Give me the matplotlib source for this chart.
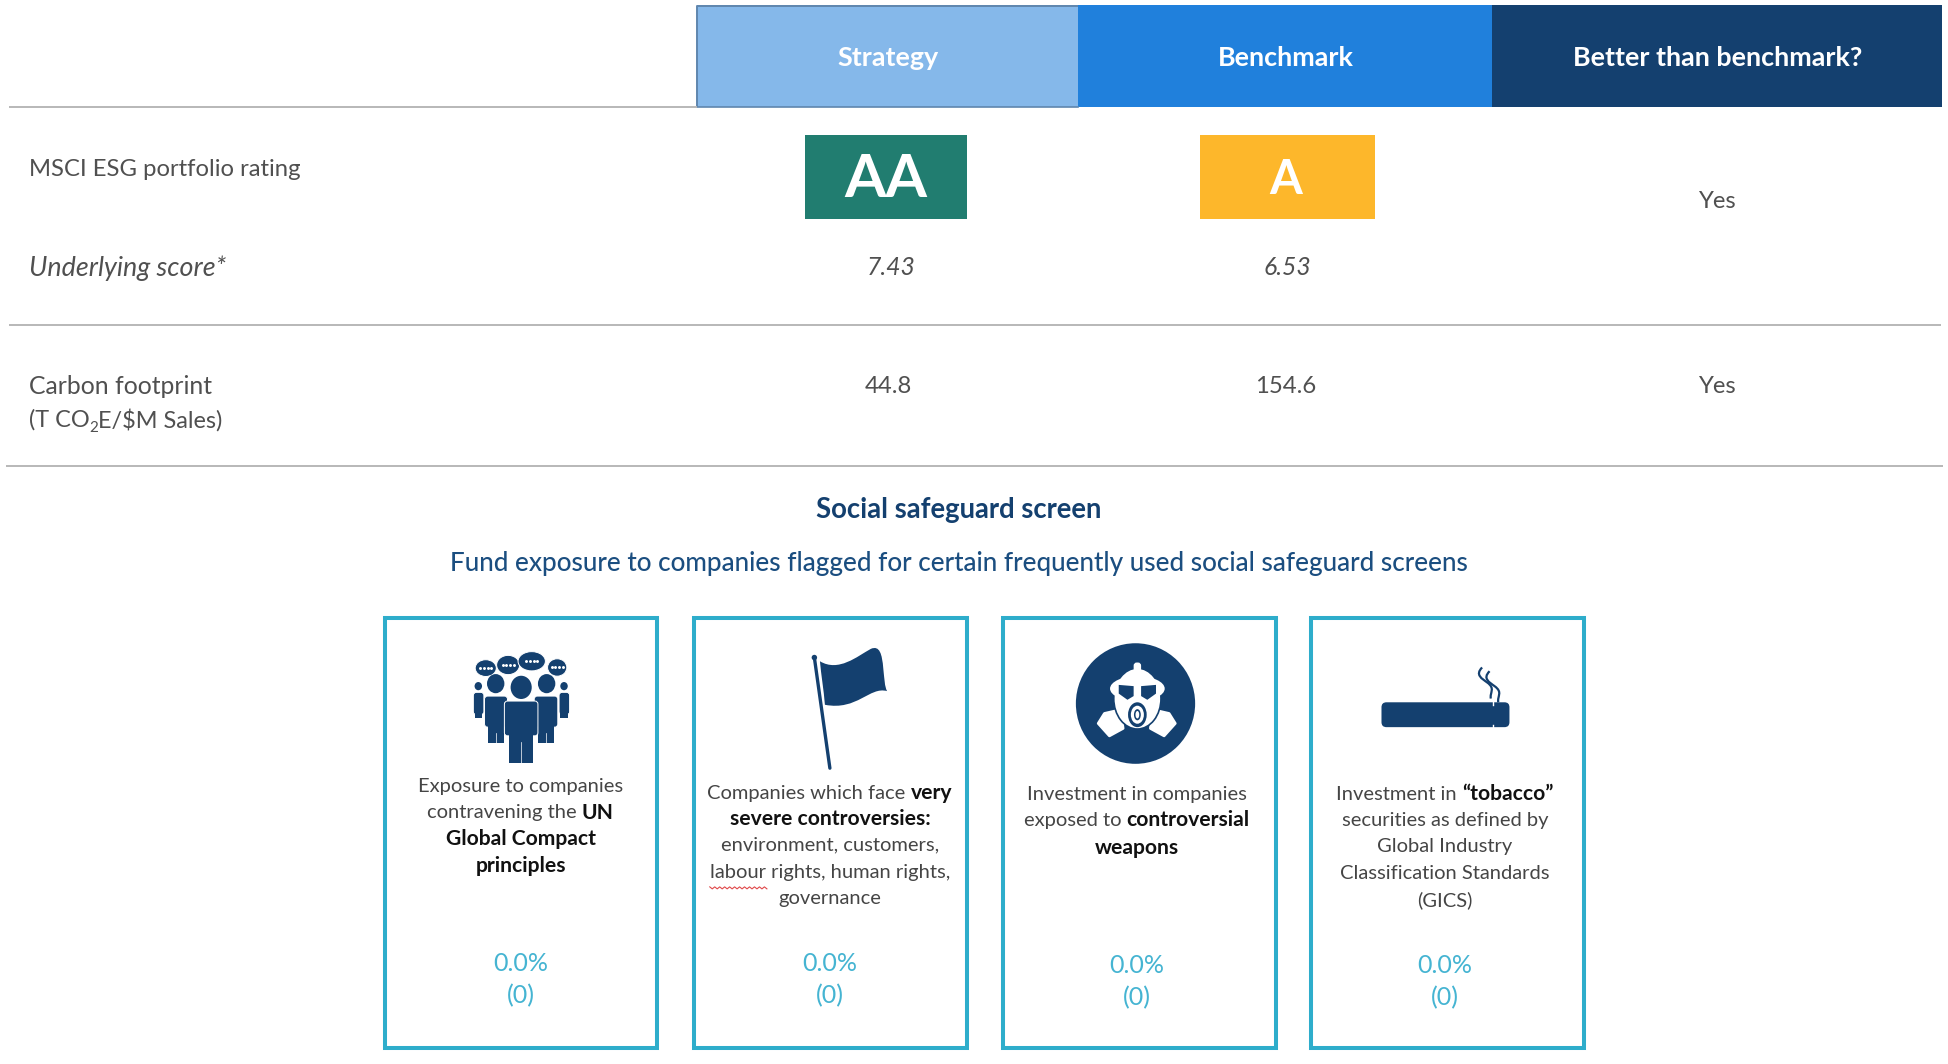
import matplotlib
matplotlib.use("Agg")
import matplotlib.pyplot as plt
from matplotlib.patches import Rectangle, Circle, Ellipse, FancyBboxPatch, PathPatch, Polygon
from matplotlib.path import Path

# ---------- data ----------
header_labels = ["Strategy", "Benchmark", "Better than benchmark?"]
row_labels = ["MSCI ESG portfolio rating", "Underlying score*", "Carbon footprint"]
ratings = ["AA", "A"]
underlying_scores = ["7.43", "6.53"]
carbon_footprint = ["44.8", "154.6"]
better_flags = ["Yes", "Yes"]
section_title = "Social safeguard screen"
section_subtitle = "Fund exposure to companies flagged for certain frequently used social safeguard screens"
card_values = ["0.0%", "0.0%", "0.0%", "0.0%"]
card_counts = ["(0)", "(0)", "(0)", "(0)"]
card_texts = [
    [[("Exposure to companies", 0)],
     [("contravening the ", 0), ("UN", 1)],
     [("Global Compact", 1)],
     [("principles", 1)]],
    [[("Companies which face ", 0), ("very", 1)],
     [("severe controversies:", 1)],
     [("environment, customers,", 0)],
     [("labour rights, human rights,", 0)],
     [("governance", 0)]],
    [[("Investment in companies", 0)],
     [("exposed to ", 0), ("controversial", 1)],
     [("weapons", 1)]],
    [[("Investment in ", 0), ("\u201ctobacco\u201d", 1)],
     [("securities as defined by", 0)],
     [("Global Industry", 0)],
     [("Classification Standards", 0)],
     [("(GICS)", 0)]],
]

# ---------- style ----------
FONT = "Lato"
NAVY = "#14406F"
TEAL = "#2EADCB"
VAL = "#45B4D2"
GREY = "#505050"
RULE = "#B8B8B8"

fig = plt.figure(figsize=(19.48, 10.64), dpi=100, facecolor="white")
ax = fig.add_axes([0, 0, 1, 1])
ax.set_xlim(0, 1568)
ax.set_ylim(856, 0)
ax.axis("off")


def T(x, y, s, size=17.2, color=GREY, ha="center", weight="normal", style="normal"):
    return ax.text(x, y, s, fontsize=size, color=color, ha=ha, va="center",
                   family=FONT, weight=weight, style=style)


def centred(xc, y, segs):
    """One line made of regular and bold runs, centred on xc."""
    r = fig.canvas.get_renderer()
    arts = []
    for s, b in segs:
        arts.append(ax.text(0, y, s.replace(" ", "\u00a0"), fontsize=15.2 if b else 14.5, family=FONT,
                            weight="bold" if b else "normal",
                            color="#111111" if b else "#454545", va="center", ha="left"))
    widths = [a.get_window_extent(r).width * 1568 / 1948 for a in arts]
    x = xc - sum(widths) / 2
    starts = []
    for a, w in zip(arts, widths):
        a.set_x(x)
        starts.append((x, w))
        x += w
    return starts


# ---------- header ----------
cols = [(561, 868, "#85B8EA"), (868, 1201, "#2080DC"), (1201, 1563, NAVY)]
for (x0, x1, c), lab in zip(cols, header_labels):
    ax.add_patch(Rectangle((x0, 4), x1 - x0, 82, fc=c, ec="none"))
    T((x0 + x1) / 2 + 0.5, 46.5, lab, size=19.4, color="white", weight="bold")
ax.plot([561, 561, 868], [86, 4.5, 4.5], color="#5F86AE", lw=1.4, solid_capstyle="butt")
ax.plot([561, 868], [86, 86], color="#5F86AE", lw=1.2)

for y, x0, x1 in [(86, 7, 561), (261.5, 7, 1562), (374.5, 5, 1564)]:
    ax.plot([x0, x1], [y, y], color=RULE, lw=1.4, solid_capstyle="butt")

# ---------- table ----------
T(23, 136, row_labels[0], ha="left")
T(23, 215.5, row_labels[1], ha="left", style="italic", size=19.4)
T(23, 311, row_labels[2], ha="left", size=17.8)
x = T(23, 338, "(T CO", ha="left", size=16.9)
fig.canvas.draw()
r = fig.canvas.get_renderer()
x_end = 23 + x.get_window_extent(r).width * 1568 / 1948
s2 = T(x_end, 344, "2", size=11, ha="left")
x_end += s2.get_window_extent(r).width * 1568 / 1948
T(x_end, 338, "E/$M Sales)", ha="left", size=16.9)

ax.add_patch(Rectangle((648, 109), 130, 67, fc="#217D70", ec="none"))
T(713, 145, ratings[0], size=43, color="white", weight="bold")
ax.add_patch(Rectangle((966, 109), 141, 67, fc="#FDB72B", ec="none"))
T(1035, 145, ratings[1], size=34, color="white", weight="bold")

T(717, 215.5, underlying_scores[0], style="italic", size=17.8)
T(1036, 215.5, underlying_scores[1], style="italic", size=17.8)
T(715, 311, carbon_footprint[0])
T(1035, 311, carbon_footprint[1])
T(1382, 162, better_flags[0])
T(1382, 311, better_flags[1])

T(772, 410, section_title, size=19.8, color=NAVY, weight="bold")
T(772, 453.5, section_subtitle, size=18.8, color="#1B4E80", weight="medium")

# ---------- cards ----------
card_x = [(310, 529), (559, 778), (807, 1027), (1055, 1275)]
text_ys = [[633, 654, 675, 697],
           [638, 659, 680, 702, 723],
           [639, 660, 682],
           [639, 660, 681, 703, 724]]
text_xc = [419, 668, 915, 1163]
val_ys = [(775, 801), (775, 801), (777, 803), (777, 803)]
for i, (x0, x1) in enumerate(card_x):
    ax.add_patch(Rectangle((x0, 497.5), x1 - x0, 346, fc="white", ec=TEAL, lw=2.9, joinstyle="miter"))
    for y, segs in zip(text_ys[i], card_texts[i]):
        st = centred(text_xc[i], y, segs)
        if segs[0][0].startswith("labour"):
            xs = st[0][0]
            n = 24
            ax.plot([xs + j * 2 for j in range(n)],
                    [y + 11.5 + (j % 2) * 1.6 for j in range(n)], color="#E0484A", lw=0.8)
    T(text_xc[i], val_ys[i][0], card_values[i], size=18, color=VAL, weight="normal")
    T(text_xc[i], val_ys[i][1], card_counts[i], size=18, color=VAL, weight="normal")


# ---------- icons ----------
# people with speech bubbles
for cx, cy, w, h in [(391, 537.5, 17, 13.5), (409, 535, 18.5, 15.5), (428, 532, 22, 15.5), (448.5, 537, 15.5, 14)]:
    ax.add_patch(Ellipse((cx, cy), w, h, fc=NAVY, ec="white", lw=0.7))
    ax.plot([cx - 4.5, cx - 1.5, cx + 1.5, cx + 4.5], [cy] * 4, ls="none", marker="o", ms=1.1, color="white")


def person(cx, head_y, head_r, x0, x1, top, waist, leg0, leg1, foot):
    ax.add_patch(Ellipse((cx, head_y), head_r * 2, head_r * 2.2, fc=NAVY, ec="none"))
    ax.add_patch(FancyBboxPatch((x0, top), x1 - x0, waist - top, boxstyle="round,pad=0,rounding_size=2.5",
                                fc=NAVY, ec="white", lw=0.7))
    ax.add_patch(Rectangle((leg0, waist - 3), leg1 - leg0, foot - waist + 3, fc=NAVY, ec="none"))
    ax.plot([(leg0 + leg1) / 2] * 2, [waist + 5, foot], color="white", lw=0.5)


person(385, 552, 3, 381, 389.5, 557, 575, 382, 388, 578)
person(454, 552, 3, 450, 458.5, 557, 575, 451, 457, 578)
person(399, 550, 7, 390, 408.5, 560, 585, 393, 406, 598)
person(440, 550, 7, 430, 449, 560, 585, 433, 446, 598)
person(419.5, 553, 8.5, 406, 433, 564, 592, 410, 429, 614)

# flag
ax.plot([655.5, 668], [529, 618], color=NAVY, lw=2.4, solid_capstyle="round")
ax.add_patch(Circle((655.5, 529), 2.2, fc=NAVY, ec="none"))
flag_verts = [(660, 532), (675, 541), (690, 528), (701, 522), (708, 519), (710, 526),
              (711, 538), (712, 547), (712, 552), (714, 556), (700, 552), (690, 572),
              (664, 567), (663, 555), (661, 543), (660, 532)]
flag_codes = [Path.MOVETO] + [Path.CURVE4] * 15
ax.add_patch(PathPatch(Path(flag_verts, flag_codes), fc=NAVY, ec="none"))

# gas mask
ax.add_patch(Ellipse((914, 566), 96, 97, fc=NAVY, ec="none"))
for sgn in (-1, 1):
    cx = 915 + sgn * 21
    ax.add_patch(Polygon([(cx - sgn * 8, 571), (cx + sgn * 5, 574), (cx + sgn * 10, 582),
                          (cx + sgn * 1, 592), (cx - sgn * 10, 586)], closed=True,
                         fc="white", ec="white", lw=2, joinstyle="round"))
ax.add_patch(Ellipse((915.5, 562), 38, 49, fc="white", ec=NAVY, lw=1.2))
ax.add_patch(Ellipse((915.5, 554), 44, 20, fc="white", ec="none"))
ax.add_patch(FancyBboxPatch((912.5, 533), 6, 8, boxstyle="round,pad=0,rounding_size=2.5", fc="white", ec="none"))
for sgn in (-1, 1):
    ax.add_patch(Polygon([(915.5 + sgn * 3, 552), (915.5 + sgn * 15, 551), (915.5 + sgn * 15, 558),
                          (915.5 + sgn * 8, 563), (915.5 + sgn * 3, 560)], closed=True, fc=NAVY, ec="none"))
ax.add_patch(Ellipse((915.5, 575), 15, 20, fc=NAVY, ec="none"))
ax.add_patch(Ellipse((915.5, 575), 10.5, 14.5, fc="white", ec="none"))
ax.add_patch(Ellipse((915.5, 575), 5.5, 9, fc=NAVY, ec="none"))
ax.add_patch(Ellipse((915.5, 575), 3, 6, fc="white", ec="none"))

# cigarette
ax.add_patch(FancyBboxPatch((1112, 565), 103, 20, boxstyle="round,pad=0,rounding_size=4", fc=NAVY, ec="none"))
ax.plot([1201.5, 1201.5], [564.5, 567], color="white", lw=1.0)
ax.plot([1201.5, 1201.5], [583, 585.5], color="white", lw=1.0)
smoke_codes = [Path.MOVETO, Path.CURVE4, Path.CURVE4, Path.CURVE4, Path.CURVE4, Path.CURVE4, Path.CURVE4]
for dx, y0 in [(0, 537), (6, 540)]:
    vs = [(1193 + dx, y0), (1187 + dx, y0 + 6), (1193 + dx, y0 + 9), (1197 + dx, y0 + 12),
          (1204 + dx, y0 + 17), (1199 + dx, y0 + 20), (1200 + dx, y0 + 25)]
    ax.add_patch(PathPatch(Path(vs, smoke_codes), fc="none", ec=NAVY, lw=1.6))

fig.savefig("out.png", dpi=100, facecolor="white")
